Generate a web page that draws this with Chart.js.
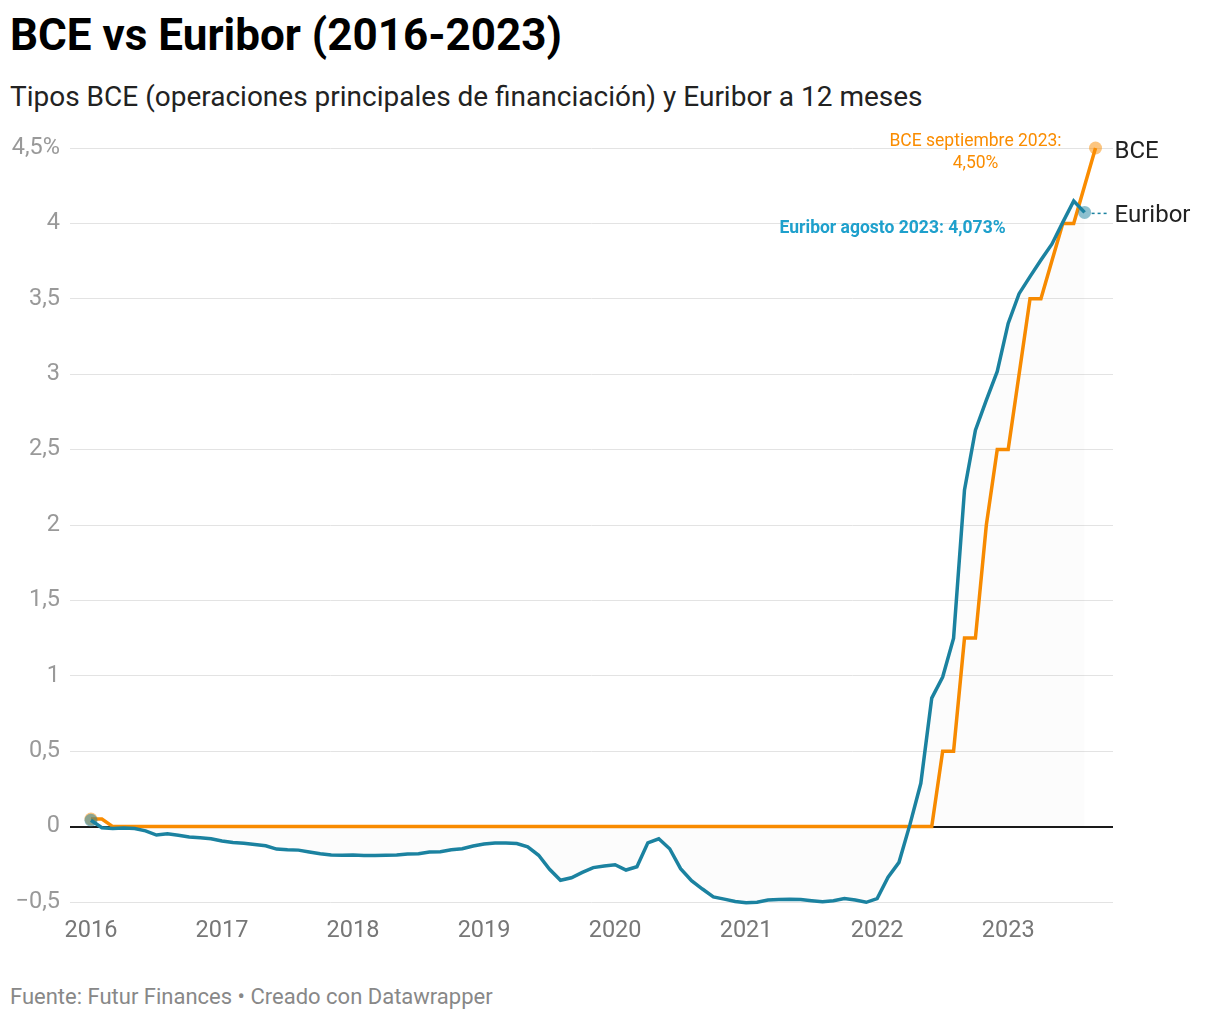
<!DOCTYPE html>
<html>
<head>
<meta charset="utf-8">
<script src="https://cdn.jsdelivr.net/npm/chart.js@4"></script>
<style>
  body { margin: 0; background: #fff; font-family: Roboto, sans-serif; }
  #title { position: absolute; left: 10px; top: 8px; font-size: 44px; font-weight: bold; color: #000; margin: 0; line-height: 54px; }
  #subtitle { position: absolute; left: 10px; top: 80px; font-size: 28px; color: #222; line-height: 34px; }
  #footer { position: absolute; left: 10px; top: 983px; font-size: 22px; color: #888; line-height: 28px; }
  #wrap { position: absolute; left: 0; top: 120px; width: 1220px; height: 840px; }
</style>
</head>
<body>
<h1 id="title">BCE vs Euribor (2016-2023)</h1>
<div id="subtitle">Tipos BCE (operaciones principales de financiación) y Euribor a 12 meses</div>
<div id="wrap"><canvas id="chart"></canvas></div>
<div id="footer">Fuente: Futur Finances • Creado con Datawrapper</div>
<script>
// Euribor 12 meses, mensual ene 2016 - ago 2023
const euriborStart = '2016-01';
const euribor = [
  0.042, -0.008, -0.012, -0.010, -0.013, -0.028, -0.056, -0.048, -0.057, -0.069, -0.074, -0.080,
  -0.095, -0.106, -0.110, -0.119, -0.127, -0.149, -0.154, -0.156, -0.168, -0.180, -0.189, -0.190,
  -0.189, -0.191, -0.191, -0.190, -0.188, -0.181, -0.180, -0.169, -0.166, -0.154, -0.147, -0.129,
  -0.116, -0.108, -0.109, -0.112, -0.134, -0.190, -0.283, -0.356, -0.339, -0.304, -0.272, -0.261,
  -0.253, -0.288, -0.266, -0.108, -0.081, -0.147, -0.279, -0.359, -0.414, -0.466, -0.481, -0.497,
  -0.505, -0.501, -0.487, -0.484, -0.481, -0.484, -0.491, -0.498, -0.492, -0.477, -0.487, -0.502,
  -0.477, -0.335, -0.237, 0.013, 0.287, 0.852, 0.992, 1.249, 2.233, 2.629, 2.828, 3.018,
  3.337, 3.534, 3.647, 3.757, 3.862, 4.007, 4.149, 4.073
];

// BCE: meses con cambios (entre ellos el tipo se mantiene)
const bceMonths = ['2016-01', '2016-02', '2016-03', '2022-06', '2022-07', '2022-08', '2022-09', '2022-10',
  '2022-11', '2022-12', '2023-01', '2023-02', '2023-03', '2023-04', '2023-05', '2023-06', '2023-07', '2023-08', '2023-09'];
const bceValues = [0.05, 0.05, 0, 0, 0.5, 0.5, 1.25, 1.25, 2.0, 2.5, 2.5, 3.0, 3.5, 3.5, 3.75, 4.0, 4.0, 4.25, 4.5];

const yearTicks = [2016, 2017, 2018, 2019, 2020, 2021, 2022, 2023];
const yTicks = [-0.5, 0, 0.5, 1, 1.5, 2, 2.5, 3, 3.5, 4, 4.5];

const ORANGE = '#fa8c00';
const TEAL = '#1b82a0';

function monthIndex(s) {
  const [y, m] = s.split('-').map(Number);
  return (y - 2016) * 12 + (m - 1);
}

const startIdx = monthIndex(euriborStart);
const euriborData = euribor.map((v, i) => ({ x: startIdx + i, y: v }));
const bceData = bceMonths.map((m, i) => ({ x: monthIndex(m), y: bceValues[i] }));

function fmt(v) {
  let s = String(v).replace('.', ',');
  if (v < 0) s = '\u2212' + s.slice(1);
  return s;
}

function endPoints(ctx) {
  const n = ctx.dataset.data.length;
  return (ctx.dataIndex === 0 || ctx.dataIndex === n - 1) ? 6.5 : 0;
}

const labelPlugin = {
  id: 'labels',
  afterDatasetsDraw(chart) {
    const c = chart.ctx;
    const xs = chart.scales.x, ys = chart.scales.y;
    const eLast = euriborData[euriborData.length - 1];
    const bLast = bceData[bceData.length - 1];
    const ex = xs.getPixelForValue(eLast.x), ey = ys.getPixelForValue(eLast.y);
    const bx = xs.getPixelForValue(bLast.x), by = ys.getPixelForValue(bLast.y);
    c.save();
    // dashed connector
    c.strokeStyle = TEAL;
    c.lineWidth = 1.5;
    c.setLineDash([3, 3]);
    c.beginPath();
    c.moveTo(ex + 7, ey + 1);
    c.lineTo(ex + 25, ey + 1);
    c.stroke();
    c.setLineDash([]);
    // series names
    c.fillStyle = '#222';
    c.font = '24px Roboto';
    c.textAlign = 'left';
    c.textBaseline = 'middle';
    c.fillText('BCE', bx + 19, by + 4);
    c.fillText('Euribor', bx + 19, ey + 4);
    // annotations
    c.textAlign = 'center';
    c.fillStyle = ORANGE;
    c.font = '17.5px Roboto';
    c.fillText('BCE septiembre 2023:', bx - 120, by - 6);
    c.fillText('4,50%', bx - 120, by + 16);
    c.fillStyle = '#1ea0cc';
    c.font = 'bold 17.5px Roboto';
    c.fillText('Euribor agosto 2023: ' + fmt(eLast.y) + '%', ex - 192, ey + 16);
    c.restore();
  }
};

new Chart(document.getElementById('chart'), {
  type: 'line',
  data: {
    datasets: [
      {
        label: 'Euribor',
        data: euriborData,
        borderColor: TEAL,
        borderWidth: 3.5,
        backgroundColor: 'rgba(0,0,0,0.012)',
        fill: 'origin',
        tension: 0,
        clip: false,
        pointRadius: endPoints,
        pointBackgroundColor: 'rgba(27,130,160,0.5)',
        pointBorderWidth: 0,
        order: 0
      },
      {
        label: 'BCE',
        data: bceData,
        borderColor: ORANGE,
        borderWidth: 3.5,
        fill: false,
        tension: 0,
        clip: false,
        pointRadius: endPoints,
        pointBackgroundColor: 'rgba(250,140,0,0.5)',
        pointBorderWidth: 0,
        order: 1
      }
    ]
  },
  options: {
    responsive: true,
    maintainAspectRatio: false,
    animation: false,
    layout: { padding: { top: 28, right: 107, left: 0, bottom: 0 } },
    plugins: { legend: { display: false }, tooltip: { enabled: false } },
    scales: {
      x: {
        type: 'linear',
        min: -1.92,
        max: 93.6,
        afterBuildTicks: (scale) => { scale.ticks = yearTicks.map(y => ({ value: (y - 2016) * 12 })); },
        afterFit: (scale) => { scale.height = 58; },
        grid: { display: false, drawTicks: false },
        border: { display: false },
        ticks: {
          padding: 15,
          color: '#777',
          font: { family: 'Roboto', size: 23.5 },
          maxRotation: 0,
          callback: (v) => String(2016 + v / 12)
        }
      },
      y: {
        min: -0.5,
        max: 4.5,
        afterBuildTicks: (scale) => { scale.ticks = yTicks.map(v => ({ value: v })); },
        afterFit: (scale) => { scale.width = 70; },
        grid: {
          drawTicks: false,
          color: (ctx) => ctx.tick && ctx.tick.value === 0 ? '#1a1a1a' : '#e3e3e3',
          lineWidth: (ctx) => ctx.tick && ctx.tick.value === 0 ? 2 : 1
        },
        border: { display: false },
        ticks: {
          padding: 10,
          color: '#999',
          font: { family: 'Roboto', size: 23.5 },
          callback: (v) => v === 4.5 ? '4,5%' : fmt(v)
        }
      }
    }
  },
  plugins: [labelPlugin]
});
</script>
</body>
</html>
